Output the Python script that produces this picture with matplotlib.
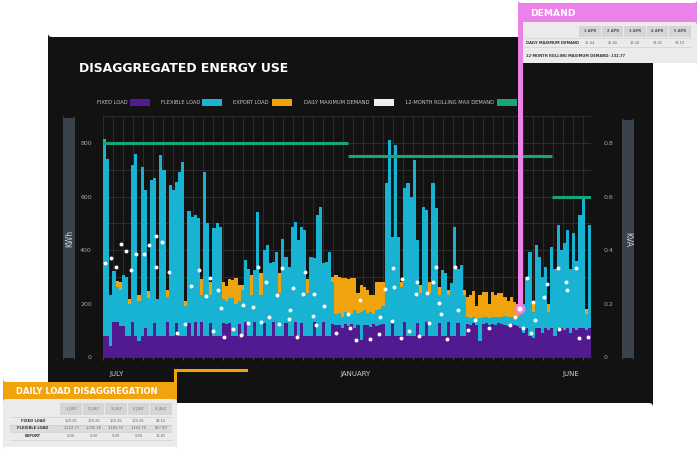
import numpy as np
import matplotlib
matplotlib.use('agg')
import matplotlib.pyplot as plt
from matplotlib.patches import FancyBboxPatch, Circle
from matplotlib.lines import Line2D
from matplotlib.transforms import Affine2D

# ---- data (~3 bars per week, July -> June) ----
fixed_load = [
    78, 78, 40, 130, 130, 115, 115, 78, 78, 130, 78, 60, 78, 107, 78, 78, 126, 78, 78, 78,
    130, 78, 78, 126, 78, 78, 78, 126, 78, 130, 78, 130, 78, 78, 126, 78, 78, 78, 128, 125,
    128, 78, 78, 125, 78, 130, 78, 78, 130, 78, 78, 128, 78, 78, 130, 78, 78, 78, 128, 78,
    78, 130, 78, 128, 78, 78, 78, 130, 78, 78, 130, 78, 78, 125, 118, 120, 110, 122, 115, 125,
    110, 120, 64, 118, 120, 112, 122, 115, 120, 125, 78, 78, 128, 78, 78, 78, 130, 78, 78, 78,
    128, 78, 78, 130, 78, 78, 78, 128, 78, 78, 130, 78, 78, 128, 78, 78, 125, 120, 128, 120,
    60, 125, 128, 120, 125, 120, 128, 125, 120, 115, 125, 120, 115, 110, 90, 110, 78, 70, 110, 110,
    90, 110, 100, 110, 78, 110, 110, 100, 110, 90, 110, 100, 110, 110, 100, 110,
]
flexible_load = [
    737, 662, 190, 190, 130, 135, 191, 222, 122, 588, 682, 150, 632, 517, 142, 584, 542, 137, 677, 622,
    95, 565, 546, 529, 612, 652, 112, 419, 447, 400, 442, 100, 615, 422, 104, 404, 422, 409, 87, 85,
    92, 142, 122, 85, 172, 233, 252, 152, 195, 465, 152, 272, 342, 272, 226, 316, 162, 365, 247, 260,
    409, 376, 359, 359, 397, 162, 297, 239, 453, 484, 220, 278, 316, 157, 42, 45, 40, 48, 40, 35,
    65, 45, 106, 57, 45, 58, 38, 60, 60, 65, 572, 733, 322, 715, 372, 185, 501, 572, 522, 659,
    309, 162, 484, 420, 162, 572, 478, 102, 247, 235, 100, 197, 409, 202, 266, 152, 25, 25, 22, 20,
    85, 25, 22, 25, 25, 28, 22, 25, 35, 35, 23, 30, 35, 65, 110, 190, 316, 100, 309, 265,
    210, 228, 70, 303, 252, 384, 290, 325, 365, 240, 352, 260, 421, 490, 60, 384,
]
export_load = [
    0, 0, 0, 0, 25, 30, 0, 0, 15, 0, 0, 20, 0, 0, 25, 0, 0, 0, 0, 0,
    25, 0, 0, 0, 0, 0, 20, 0, 0, 0, 0, 60, 0, 0, 50, 0, 0, 0, 65, 55,
    70, 68, 94, 60, 20, 0, 0, 76, 0, 0, 83, 0, 0, 0, 0, 0, 73, 0, 0, 0,
    0, 0, 0, 0, 0, 50, 0, 0, 0, 0, 0, 0, 0, 18, 146, 135, 146, 124, 135, 134,
    119, 73, 100, 87, 85, 60, 70, 107, 102, 92, 0, 0, 0, 0, 0, 19, 0, 0, 0, 0,
    0, 30, 0, 0, 42, 0, 0, 30, 0, 0, 20, 0, 0, 0, 0, 20, 75, 85, 95, 50,
    85, 94, 94, 55, 94, 84, 90, 88, 70, 60, 77, 55, 50, 30, 0, 0, 0, 30, 0, 0,
    0, 0, 30, 0, 0, 0, 0, 0, 0, 0, 0, 0, 0, 0, 20, 0,
]

# daily maximum demand dots (bar position, kVA)
demand_pos = [
    0.0, 2.0, 3.8, 5.2, 6.8, 8.5, 10.1, 12.7, 14.3, 16.4, 16.4, 18.3, 20.6, 23.1, 25.6, 27.7,
    30.2, 32.4, 33.7, 34.6, 36.2, 37.1, 38.3, 41.2, 43.5, 44.4, 46.0, 47.4, 49.1, 50.0, 51.6,
    52.7, 55.1, 55.9, 56.8, 58.9, 59.3, 60.1, 61.4, 63.5, 64.1, 66.5, 67.0, 67.5, 70.2, 74.0,
    77.7, 78.5, 80.3, 81.7, 84.9, 87.7, 88.1, 89.7, 91.8, 92.3, 92.6, 94.8, 95.2, 97.4, 99.6,
    100.0, 100.4, 103.0, 103.8, 105.1, 106.0, 107.0, 107.5, 109.4, 112.0, 113.1, 116.1, 118.5,
    123.0, 129.6, 131.2, 133.7, 135.0, 136.3, 137.1, 137.6, 140.6, 141.4, 144.9, 145.3, 147.4,
    147.9, 150.8, 151.7, 154.6,
]
demand_kva = [
    0.353, 0.370, 0.336, 0.421, 0.397, 0.325, 0.384, 0.384, 0.417, 0.452, 0.335, 0.429, 0.318,
    0.088, 0.123, 0.267, 0.325, 0.228, 0.297, 0.096, 0.250, 0.182, 0.076, 0.103, 0.082, 0.195,
    0.128, 0.188, 0.335, 0.131, 0.279, 0.148, 0.233, 0.123, 0.333, 0.141, 0.174, 0.257, 0.074,
    0.234, 0.318, 0.155, 0.234, 0.121, 0.189, 0.088, 0.160, 0.108, 0.062, 0.212, 0.067, 0.086,
    0.148, 0.253, 0.135, 0.331, 0.262, 0.070, 0.293, 0.097, 0.236, 0.282, 0.079, 0.240, 0.126,
    0.282, 0.335, 0.203, 0.160, 0.067, 0.335, 0.174, 0.102, 0.138, 0.107, 0.120, 0.150, 0.107,
    0.294, 0.088, 0.207, 0.138, 0.226, 0.272, 0.334, 0.106, 0.282, 0.249, 0.331, 0.071, 0.074,
]
highlight_pos, highlight_kva = 132.8, 0.181

rolling_kva = [0.80, 0.75, 0.60]
rolling_start = [-0.5, 77.8, 143.0]
rolling_end = [77.8, 143.0, 155.5]

month_labels = ['JULY', 'JANUARY', 'JUNE']
month_pos = [4.0, 80.1, 149.1]

legend_labels = ['FIXED LOAD', 'FLEXIBLE LOAD', 'EXPORT LOAD', 'DAILY MAXIMUM DEMAND',
                 '12-MONTH ROLLING MAX DEMAND']

apr_days = ['1 APR', '2 APR', '3 APR', '4 APR', '5 APR']
apr_max_demand = ['35.04', '25.66', '19.42', '33.31', '33.10']
rolling_max_text = '12-MONTH ROLLING MAXIMUM DEMAND: 132.77'

july_days = ['1 JULY', '2 JULY', '3 JULY', '4 JULY', '5 JULY']
july_rows = ['FIXED LOAD', 'FLEXIBLE LOAD', 'EXPORT']
july_fixed = ['109.26', '109.26', '109.26', '109.26', '48.15']
july_flexible = ['1,154.73', '1,245.28', '1,183.76', '1,103.76', '857.99']
july_export = ['0.00', '0.00', '0.00', '0.00', '13.81']

# ---- colours ----
PURPLE = '#521a90'
CYAN = '#18b2d2'
ORANGE = '#f0a30c'
GREEN = '#17a477'
PINK = '#ec82e8'
PANEL = '#121212'
SLATE = '#3a424c'
GRIDC = '#2c2c2c'
legend_colors = [PURPLE, CYAN, ORANGE, '#eeeeee', GREEN]

W, H = 700, 454
fig = plt.figure(figsize=(7, 4.54), dpi=100)
fig.patch.set_facecolor('white')
PIX = Affine2D().scale(1, -1).translate(0, H)  # pixel coords, origin top-left


def fx(px):
    return px / W


def fy(py):
    return 1 - py / H


def box(x0, y0, x1, y1, color, z, rnd=0, **kw):
    p = FancyBboxPatch((x0, y1), x1 - x0, y0 - y1,
                       boxstyle=f'round,pad=0,rounding_size={rnd}' if rnd else 'square,pad=0',
                       transform=PIX, facecolor=color, edgecolor='none', zorder=z, **kw)
    fig.add_artist(p)
    return p


def txt(x, y, s, z=6, **kw):
    fig.text(fx(x), fy(y), s, zorder=z, **kw)


# dark card behind the chart
box(48, 37, 653, 403, PANEL, -2, rnd=4)

ax = fig.add_axes([fx(103), fy(357), 488 / W, (357 - 116.3) / H])
ax.set_facecolor(PANEL)
idx = np.arange(len(fixed_load))
fixed = np.array(fixed_load)
flex = np.array(flexible_load)
exp = np.array(export_load)
ax.bar(idx, fixed, width=1.0, color=PURPLE, lw=0, zorder=3)
ax.bar(idx, flex, bottom=fixed, width=1.0, color=CYAN, lw=0, zorder=3)
ax.bar(idx, exp, bottom=fixed + flex, width=1.0, color=ORANGE, lw=0, zorder=3)
ax.set_xlim(-0.5, len(idx) - 0.5)
ax.set_ylim(0, 900)
ax.set_yticks([0, 200, 400, 600, 800])
ax.set_yticks(np.arange(100, 901, 200), minor=True)
ax.set_xticks(month_pos, month_labels)
ax.set_xticks(np.arange(-0.5, len(idx), 10 / 3.128), minor=True)
ax.grid(which='both', axis='y', color=GRIDC, lw=0.8, zorder=0)
ax.grid(which='minor', axis='x', color=GRIDC, lw=0.8, zorder=0)
ax.tick_params(axis='y', which='both', length=0, pad=8, labelsize=4.5, labelcolor='#a8a8a8')
ax.tick_params(axis='x', which='major', length=0, pad=10, labelsize=5, labelcolor='#d0d0d0')
ax.tick_params(axis='x', which='minor', length=2.5, width=0.6, color='#555555')
for s in ['top', 'left', 'right']:
    ax.spines[s].set_visible(False)
ax.spines['bottom'].set_color('#333333')
ax.spines['bottom'].set_linewidth(0.8)

ax2 = ax.twinx()
ax2.set_ylim(0, 0.9)
ax2.set_yticks([0, 0.2, 0.4, 0.6, 0.8], ['0', '0.2', '0.4', '0.6', '0.8'])
ax2.tick_params(axis='y', length=0, pad=9, labelsize=4.5, labelcolor='#a8a8a8')
for s in ax2.spines.values():
    s.set_visible(False)
ax2.hlines(rolling_kva, rolling_start, rolling_end, color=GREEN, lw=2.2, zorder=4)
ax2.scatter(demand_pos, demand_kva, s=8, color='white', lw=0, zorder=5)

# side axis badges
box(63, 118, 75, 358, SLATE, 1, rnd=3)
txt(69.5, 238, 'KWh', rotation=90, ha='center', va='center', fontsize=5.5, color='#cfd4da')
box(622, 120, 634, 358, SLATE, 1, rnd=3)
txt(628, 239, 'KVA', rotation=270, ha='center', va='center', fontsize=5.5, color='#cfd4da')

# title and legend
txt(79, 68, 'DISAGGREGATED ENERGY USE', fontsize=8.9, weight='bold', color='white', va='center')
lx = [97, 161, 233, 304, 405]
sx = [130, 202, 272, 374, 497]
for lab, col, x0, s0 in zip(legend_labels, legend_colors, lx, sx):
    txt(x0, 102, lab, fontsize=3.7, color='#c8c8c8', va='center')
    box(s0, 99, s0 + 19.5, 105.5, col, 2)

# pink demand callout
box(518, 3, 697, 63, '#ebebeb', 7, rnd=3)
box(518, 3, 697, 22, PINK, 7, rnd=3)
box(518, 12, 697, 22, PINK, 7)
box(517.5, 20, 522.5, 304, PINK, 7)
fig.add_artist(Circle((520, 309), 4.8, transform=PIX, color=PINK, zorder=7))
fig.add_artist(Circle((520, 309), 1.8, transform=PIX, color='white', zorder=8))
txt(530, 13, 'DEMAND', z=9, fontsize=6.6, weight='bold', color='white', va='center')
cw = 22.4
for k, (d, v) in enumerate(zip(apr_days, apr_max_demand)):
    cx = 579 + k * cw
    box(cx + 0.4, 26, cx + cw - 0.4, 37, '#d5d5d5', 8)
    txt(cx + cw / 2, 31.5, d, z=9, fontsize=2.6, weight='bold', color='#555555', ha='center', va='center')
    txt(cx + cw / 2, 42.5, v, z=9, fontsize=2.6, color='#666666', ha='center', va='center')
fig.add_artist(Line2D([524, 691], [38, 38], transform=PIX, color='#cccccc', lw=0.4, zorder=8))
fig.add_artist(Line2D([524, 691], [47, 47], transform=PIX, color='#cccccc', lw=0.4, zorder=8))
txt(526, 42.5, 'DAILY MAXIMUM DEMAND', z=9, fontsize=2.6, weight='bold', color='#333333', va='center')
txt(526, 56, rolling_max_text, z=9, fontsize=2.6, weight='bold', color='#333333', va='center')

# orange daily load callout
fig.add_artist(Line2D([175, 175, 246], [383, 370, 370], transform=PIX, color=ORANGE,
                      lw=2.2, solid_joinstyle='miter', zorder=7))
box(3, 382, 177, 447, '#ebebeb', 7, rnd=3)
box(3, 382, 177, 399, ORANGE, 7, rnd=3)
box(3, 392, 177, 399, ORANGE, 7)
txt(16, 391, 'DAILY LOAD DISAGGREGATION', z=9, fontsize=6.0, weight='bold', color='white', va='center')
box(10, 424.5, 172, 432, '#dcdcdc', 8)
for k, d in enumerate(july_days):
    cx = 60 + k * cw
    box(cx + 0.4, 403, cx + cw - 0.4, 415, '#d5d5d5', 8)
    txt(cx + cw / 2, 409, d, z=9, fontsize=2.6, color='#666666', ha='center', va='center')
    for row_vals, ry in zip([july_fixed, july_flexible, july_export], [420.5, 428.3, 436]):
        txt(cx + cw / 2, ry, row_vals[k], z=9, fontsize=2.6, color='#666666', ha='center', va='center')
for lab, ry in zip(july_rows, [420.5, 428.3, 436]):
    txt(33, ry, lab, z=9, fontsize=2.6, weight='bold', color='#333333', ha='center', va='center')
for ly in [416.5, 424.5, 432, 440]:
    fig.add_artist(Line2D([10, 172], [ly, ly], transform=PIX, color='#c8c8c8', lw=0.4, zorder=8))

fig.savefig('out.png', dpi=100, facecolor='white')
